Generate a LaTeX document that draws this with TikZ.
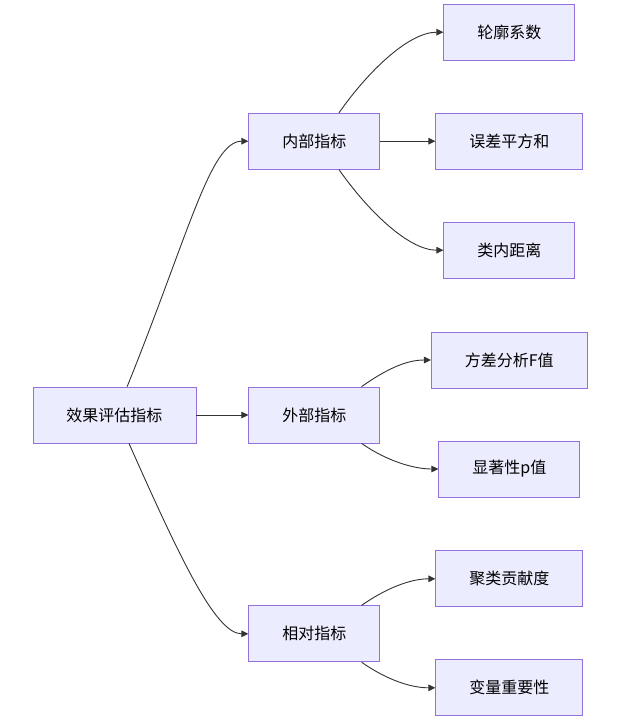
\documentclass[tikz,border=0pt]{standalone}
\usepackage{fontspec}
\setmainfont{Noto Sans CJK SC}
\usepackage{xcolor}
\usetikzlibrary{arrows.meta, positioning, calc}
\definecolor{nodefill}{HTML}{ECECFF}
\definecolor{nodeline}{HTML}{9370DB}
\definecolor{edgeline}{HTML}{333333}

\begin{document}
\begin{tikzpicture}[
  box/.style={draw=nodeline, fill=nodefill, line width=0.8pt, inner xsep=33.5pt,
              inner ysep=0pt, minimum height=56pt, font=\fontsize{16}{19}\selectfont},
  arr/.style={-{Triangle[length=7pt, width=6.5pt]}, draw=edgeline, line width=0.9pt}
]
  \useasboundingbox (0,0) rectangle (628pt,-724pt);
  \node[box] (root) at (114.5pt,-415pt) {效果评估指标};
  \node[box, right=52pt of root] (ext) {外部指标};
  \node[box, above=217pt of ext] (inner) {内部指标};
  \node[box, below=162pt of ext] (rel) {相对指标};

  \node[box] (sil)     at ($(inner)+(195pt,109pt)$)  {轮廓系数};
  \node[box] (sse)     at ($(inner)+(195pt,0)$)      {误差平方和};
  \node[box] (intra)   at ($(inner)+(195pt,-109pt)$) {类内距离};
  \node[box] (anova)   at ($(ext)+(195pt,55pt)$)     {方差分析F值};
  \node[box] (pval)    at ($(ext)+(195pt,-54pt)$)    {显著性p值};
  \node[box] (contrib) at ($(rel)+(195pt,55pt)$)     {聚类贡献度};
  \node[box] (varimp)  at ($(rel)+(195pt,-54pt)$)    {变量重要性};

  \draw[arr] (root.66) .. controls +(68:165pt) and +(-38pt,0) .. (inner.west);
  \draw[arr] (root) -- (ext);
  \draw[arr] (root.-63) .. controls +(-66:125pt) and +(-33pt,0) .. (rel.west);

  \draw[arr] (inner.49) .. controls +(55:50pt) and +(-35pt,0) .. (sil.west);
  \draw[arr] (inner) -- (sse);
  \draw[arr] (inner.-49) .. controls +(-55:50pt) and +(-35pt,0) .. (intra.west);

  \draw[arr] (ext.31) .. controls +(35:30pt) and +(-25pt,0) .. (anova.west);
  \draw[arr] (ext.-31) .. controls +(-35:30pt) and +(-25pt,0) .. (pval.west);

  \draw[arr] (rel.31) .. controls +(35:30pt) and +(-25pt,0) .. (contrib.west);
  \draw[arr] (rel.-31) .. controls +(-35:30pt) and +(-25pt,0) .. (varimp.west);
\end{tikzpicture}
\end{document}
